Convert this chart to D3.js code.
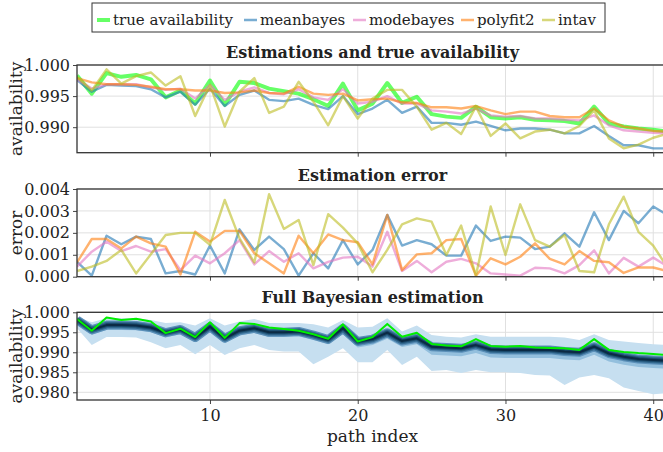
<!DOCTYPE html>
<html>
<head>
<meta charset="utf-8">
<script src="https://cdn.jsdelivr.net/npm/d3@7"></script>
<style>
  body { margin: 0; background: #fff; }
  text { font-family: "DejaVu Serif", serif; fill: #222; }
</style>
</head>
<body>
<script>
// ---- data ----
var pathIndex = [1,2,3,4,5,6,7,8,9,10,11,12,13,14,15,16,17,18,19,20,21,22,23,24,25,26,27,28,29,30,31,32,33,34,35,36,37,38,39,40,41];

var trueAvail = [0.9983,0.9954,0.9987,0.9981,0.9984,0.9977,0.9948,0.9959,0.9938,0.9975,0.9936,0.9973,0.9971,0.9962,0.9958,0.9954,0.9945,0.9934,0.9970,0.9927,0.9938,0.9971,0.9939,0.9949,0.9921,0.9917,0.9915,0.9933,0.9916,0.9914,0.9916,0.9912,0.9911,0.9910,0.9906,0.9933,0.9906,0.9901,0.9898,0.9896,0.9893];
var meanBayes = [0.9976,0.9957,0.9968,0.9967,0.9966,0.9961,0.9948,0.9957,0.9936,0.9962,0.9934,0.9952,0.9959,0.9944,0.9942,0.9946,0.9936,0.9929,0.9950,0.9921,0.9930,0.9944,0.9923,0.9933,0.9907,0.9907,0.9904,0.9909,0.9902,0.9895,0.9898,0.9898,0.9896,0.9890,0.9890,0.9902,0.9886,0.9871,0.9871,0.9866,0.9866];
var modeBayes = [0.9977,0.9962,0.9969,0.9969,0.9969,0.9964,0.9960,0.9962,0.9946,0.9968,0.9944,0.9957,0.9964,0.9955,0.9953,0.9961,0.9948,0.9944,0.9961,0.9938,0.9941,0.9950,0.9938,0.9938,0.9927,0.9925,0.9922,0.9930,0.9919,0.9917,0.9918,0.9914,0.9914,0.9912,0.9911,0.9919,0.9903,0.9895,0.9893,0.9891,0.9890];
var polyfit2  = [0.9979,0.9972,0.9969,0.9969,0.9968,0.9965,0.9961,0.9961,0.9959,0.9959,0.9955,0.9956,0.9959,0.9955,0.9954,0.9965,0.9954,0.9952,0.9954,0.9943,0.9945,0.9946,0.9940,0.9939,0.9932,0.9932,0.9930,0.9934,0.9927,0.9921,0.9925,0.9925,0.9918,0.9916,0.9916,0.9930,0.9911,0.9901,0.9898,0.9894,0.9893];
var intav     = [0.9981,0.9959,0.9993,0.9970,0.9982,0.9988,0.9967,0.9982,0.9918,0.9968,0.9901,0.9957,0.9979,0.9923,0.9933,0.9973,0.9941,0.9903,0.9950,0.9914,0.9946,0.9960,0.9960,0.9933,0.9896,0.9907,0.9889,0.9933,0.9886,0.9906,0.9882,0.9893,0.9896,0.9890,0.9902,0.9927,0.9882,0.9866,0.9872,0.9883,0.9890];

var errMean  = [0.00068,0.00005,0.00187,0.00148,0.00183,0.00172,0.00015,0.00026,0.00010,0.00142,0.00015,0.00216,0.00122,0.00183,0.00126,0.00005,0.00107,0.00038,0.00167,0.00056,0.00122,0.00282,0.00142,0.00167,0.00148,0.00096,0.00096,0.00233,0.00163,0.00183,0.00178,0.00126,0.00137,0.00198,0.00137,0.00294,0.00167,0.00300,0.00244,0.00320,0.00280];
var errMode  = [0.00046,0.00114,0.00160,0.00117,0.00140,0.00114,0.00126,0.00030,0.00096,0.00061,0.00107,0.00167,0.00056,0.00117,0.00068,0.00107,0.00038,0.00068,0.00087,0.00091,0.00046,0.00205,0.00026,0.00072,0.00020,0.00068,0.00081,0.00061,0.00015,0.00010,0.00005,0.00041,0.00038,0.00015,0.00053,0.00120,0.00015,0.00086,0.00046,0.00087,0.00046];
var errPoly  = [0.00065,0.00172,0.00172,0.00129,0.00183,0.00152,0.00137,0.00010,0.00205,0.00160,0.00209,0.00209,0.00107,0.00061,0.00015,0.00187,0.00107,0.00193,0.00167,0.00157,0.00056,0.00282,0.00030,0.00102,0.00107,0.00167,0.00172,0.00005,0.00084,0.00056,0.00091,0.00152,0.00081,0.00056,0.00117,0.00072,0.00066,0.00017,0.00042,0.00042,0.00025];
var errIntav = [0.00026,0.00046,0.00072,0.00122,0.00015,0.00102,0.00190,0.00200,0.00200,0.00145,0.00350,0.00175,0.00065,0.00376,0.00218,0.00259,0.00053,0.00285,0.00224,0.00152,0.00020,0.00122,0.00239,0.00266,0.00251,0.00099,0.00233,0.00005,0.00320,0.00099,0.00330,0.00167,0.00137,0.00190,0.00026,0.00020,0.00239,0.00365,0.00205,0.00142,0.00038];

var postMedian = [0.9981,0.9956,0.9968,0.9968,0.9967,0.9962,0.9949,0.9957,0.9937,0.9964,0.9935,0.9954,0.9960,0.9950,0.9950,0.9952,0.9943,0.9932,0.9960,0.9927,0.9933,0.9949,0.9928,0.9935,0.9914,0.9912,0.9910,0.9918,0.9907,0.9906,0.9906,0.9906,0.9906,0.9902,0.9900,0.9914,0.9897,0.9889,0.9883,0.9881,0.9879];
var midHi = [0.9987,0.9962,0.9974,0.9974,0.9973,0.9968,0.9955,0.9963,0.9943,0.9970,0.9941,0.9960,0.9966,0.9956,0.9956,0.9958,0.9949,0.9938,0.9968,0.9935,0.9941,0.9957,0.9936,0.9943,0.9924,0.9922,0.9920,0.9928,0.9917,0.9916,0.9916,0.9916,0.9916,0.9912,0.9910,0.9924,0.9907,0.9899,0.9893,0.9891,0.9889];
var midLo = [0.9969,0.9944,0.9956,0.9956,0.9955,0.9950,0.9937,0.9945,0.9925,0.9952,0.9923,0.9942,0.9948,0.9938,0.9938,0.9940,0.9931,0.9920,0.9945,0.9912,0.9918,0.9934,0.9913,0.9920,0.9894,0.9892,0.9890,0.9898,0.9887,0.9886,0.9886,0.9886,0.9886,0.9882,0.9880,0.9894,0.9877,0.9869,0.9863,0.9861,0.9859];
var outerHi = [0.9989,0.9975,0.9985,0.9985,0.9985,0.9981,0.9973,0.9975,0.9967,0.9985,0.9967,0.9977,0.9983,0.9973,0.9973,0.9973,0.9970,0.9962,0.9981,0.9962,0.9964,0.9985,0.9952,0.9967,0.9943,0.9939,0.9937,0.9945,0.9939,0.9939,0.9939,0.9939,0.9939,0.9937,0.9931,0.9945,0.9931,0.9927,0.9923,0.9920,0.9918];
var outerLo = [0.9960,0.9918,0.9938,0.9938,0.9937,0.9925,0.9910,0.9918,0.9895,0.9918,0.9893,0.9910,0.9918,0.9906,0.9902,0.9902,0.9870,0.9889,0.9910,0.9875,0.9875,0.9906,0.9868,0.9889,0.9853,0.9856,0.9848,0.9856,0.9850,0.9850,0.9848,0.9843,0.9842,0.9818,0.9837,0.9843,0.9835,0.9812,0.9803,0.9795,0.9798];

var xTicks = [10, 20, 30, 40];
var seriesNames = ["true availability", "meanbayes", "modebayes", "polyfit2", "intav"];
var seriesColors = ["#00ff00", "#1f77b4", "#e377c2", "#ff7f0e", "#bcbd22"];

// ---- layout ----
var width = 663, height = 452;
var svg = d3.select("body").append("svg")
    .attr("width", width)
    .attr("height", height);

var x = d3.scaleLinear().domain([1, 41]).range([77, 668]);

var panels = [
    { title: "Estimations and true availability", label: "availability", top: 65, bottom: 152.7,
      domain: [0.9859, 1.0], ticks: [0.990, 0.995, 1.000], fmt: d3.format(".3f"), titleY: 58 },
    { title: "Estimation error", label: "error", top: 189, bottom: 276.7,
      domain: [0, 0.004], ticks: [0, 0.001, 0.002, 0.003, 0.004], fmt: d3.format(".3f"), titleY: 180.7 },
    { title: "Full Bayesian estimation", label: "availability", top: 312.3, bottom: 400,
      domain: [0.97807, 1.0], ticks: [0.980, 0.985, 0.990, 0.995, 1.000], fmt: d3.format(".3f"), titleY: 303.3 }
];

panels.forEach(function(p, k) {
    p.y = d3.scaleLinear().domain(p.domain).range([p.bottom, p.top]);
    var g = svg.append("g");
    p.g = g;

    // grid
    g.selectAll(".gx").data(xTicks).enter().append("line")
        .attr("x1", d => x(d)).attr("x2", d => x(d))
        .attr("y1", p.top).attr("y2", p.bottom)
        .attr("stroke", "#e0e0e0").attr("stroke-width", 1);
    g.selectAll(".gy").data(p.ticks).enter().append("line")
        .attr("x1", x.range()[0]).attr("x2", x.range()[1])
        .attr("y1", d => p.y(d)).attr("y2", d => p.y(d))
        .attr("stroke", "#e0e0e0").attr("stroke-width", 1);

    svg.append("defs").append("clipPath").attr("id", "clip" + k)
        .append("rect")
        .attr("x", x.range()[0]).attr("y", p.top)
        .attr("width", x.range()[1] - x.range()[0]).attr("height", p.bottom - p.top);
    p.plot = g.append("g").attr("clip-path", "url(#clip" + k + ")");

    // title
    svg.append("text")
        .attr("x", (x.range()[0] + x.range()[1]) / 2)
        .attr("y", p.titleY)
        .attr("text-anchor", "middle")
        .style("font-size", "16px")
        .style("font-weight", "bold")
        .text(p.title);

    // y label
    svg.append("text")
        .attr("text-anchor", "middle")
        .attr("transform", `translate(22,${(p.top + p.bottom) / 2}) rotate(-90)`)
        .style("font-size", "17px")
        .text(p.label);
});

// ---- panel 1: estimations ----
var p1 = panels[0];
var allEst = [trueAvail, meanBayes, modeBayes, polyfit2, intav];
var line1 = d3.line().x((d, i) => x(pathIndex[i])).y(d => p1.y(d));
p1.plot.selectAll(".est").data(allEst).enter().append("path")
    .attr("fill", "none")
    .attr("stroke", (d, i) => seriesColors[i])
    .attr("stroke-opacity", 0.6)
    .attr("stroke-width", (d, i) => i === 0 ? 4 : 2.4)
    .attr("stroke-linejoin", "round")
    .attr("d", line1);

// ---- panel 2: errors ----
var p2 = panels[1];
var allErr = [errMean, errMode, errPoly, errIntav];
var line2 = d3.line().x((d, i) => x(pathIndex[i])).y(d => p2.y(d));
p2.plot.selectAll(".err").data(allErr).enter().append("path")
    .attr("fill", "none")
    .attr("stroke", (d, i) => seriesColors[i + 1])
    .attr("stroke-opacity", 0.6)
    .attr("stroke-width", 2.4)
    .attr("stroke-linejoin", "round")
    .attr("d", line2);

// ---- panel 3: full bayesian ----
var p3 = panels[2];
var area3 = function(lo, hi) {
    return d3.area()
        .x((d, i) => x(pathIndex[i]))
        .y0((d, i) => p3.y(lo[i]))
        .y1((d, i) => p3.y(hi[i]))(pathIndex);
};
p3.plot.append("path").attr("d", area3(outerLo, outerHi)).attr("fill", "#c6dff0");
p3.plot.append("path").attr("d", area3(midLo, midHi)).attr("fill", "#93bfdd");
var line3 = d3.line().x((d, i) => x(pathIndex[i])).y(d => p3.y(d));
[[9, "#5a8fb8"], [6.5, "#33698f"], [4, "#1a4a6c"], [2, "#0b2a44"]].forEach(function(s) {
    p3.plot.append("path").datum(postMedian)
        .attr("fill", "none").attr("stroke", s[1]).attr("stroke-width", s[0])
        .attr("stroke-linejoin", "round").attr("d", line3);
});
p3.plot.append("path").datum(trueAvail)
    .attr("fill", "none").attr("stroke", "#00ee00").attr("stroke-width", 2)
    .attr("stroke-linejoin", "round").attr("d", line3);

// ---- axes ----
panels.forEach(function(p, k) {
    var yAxis = d3.axisLeft(p.y).tickValues(p.ticks).tickFormat(p.fmt).tickSize(4).tickPadding(3);
    var ga = svg.append("g").attr("transform", `translate(${x.range()[0]},0)`).call(yAxis);
    ga.select(".domain").remove();
    ga.selectAll("text").style("font-size", "16px").style("font-family", "DejaVu Serif, serif").attr("fill", "#222");
    ga.selectAll("line").attr("stroke", "#444");

    var xAxis = d3.axisBottom(x).tickValues(xTicks).tickSize(4).tickPadding(6)
        .tickFormat(k === 2 ? d3.format("d") : "");
    var gx = svg.append("g").attr("transform", `translate(0,${p.bottom})`).call(xAxis);
    gx.select(".domain").remove();
    gx.selectAll("text").style("font-size", "16px").style("font-family", "DejaVu Serif, serif").attr("fill", "#222");
    gx.selectAll("line").attr("stroke", "#444");

    svg.append("rect")
        .attr("x", x.range()[0]).attr("y", p.top)
        .attr("width", x.range()[1] - x.range()[0]).attr("height", p.bottom - p.top)
        .attr("fill", "none").attr("stroke", "#333").attr("stroke-width", 1.3);
});

svg.append("text")
    .attr("x", (x.range()[0] + x.range()[1]) / 2)
    .attr("y", 442)
    .attr("text-anchor", "middle")
    .style("font-size", "17px")
    .text("path index");

// ---- legend ----
var legendX = [113, 260, 369, 477, 558];
var legend = svg.append("g");
legend.append("rect")
    .attr("x", 92).attr("y", 3).attr("width", 513).attr("height", 29)
    .attr("fill", "#fff").attr("stroke", "#333").attr("stroke-width", 1);
var items = legend.selectAll(".item").data(seriesNames).enter().append("g");
items.append("line")
    .attr("x1", (d, i) => legendX[i] - 16).attr("x2", (d, i) => legendX[i] - 3)
    .attr("y1", 20).attr("y2", 20)
    .attr("stroke", (d, i) => seriesColors[i])
    .attr("stroke-opacity", 0.6)
    .attr("stroke-width", (d, i) => i === 0 ? 4 : 2.5);
items.append("text")
    .attr("x", (d, i) => legendX[i])
    .attr("y", 25)
    .style("font-size", "15px")
    .text(d => d);
</script>
</body>
</html>
